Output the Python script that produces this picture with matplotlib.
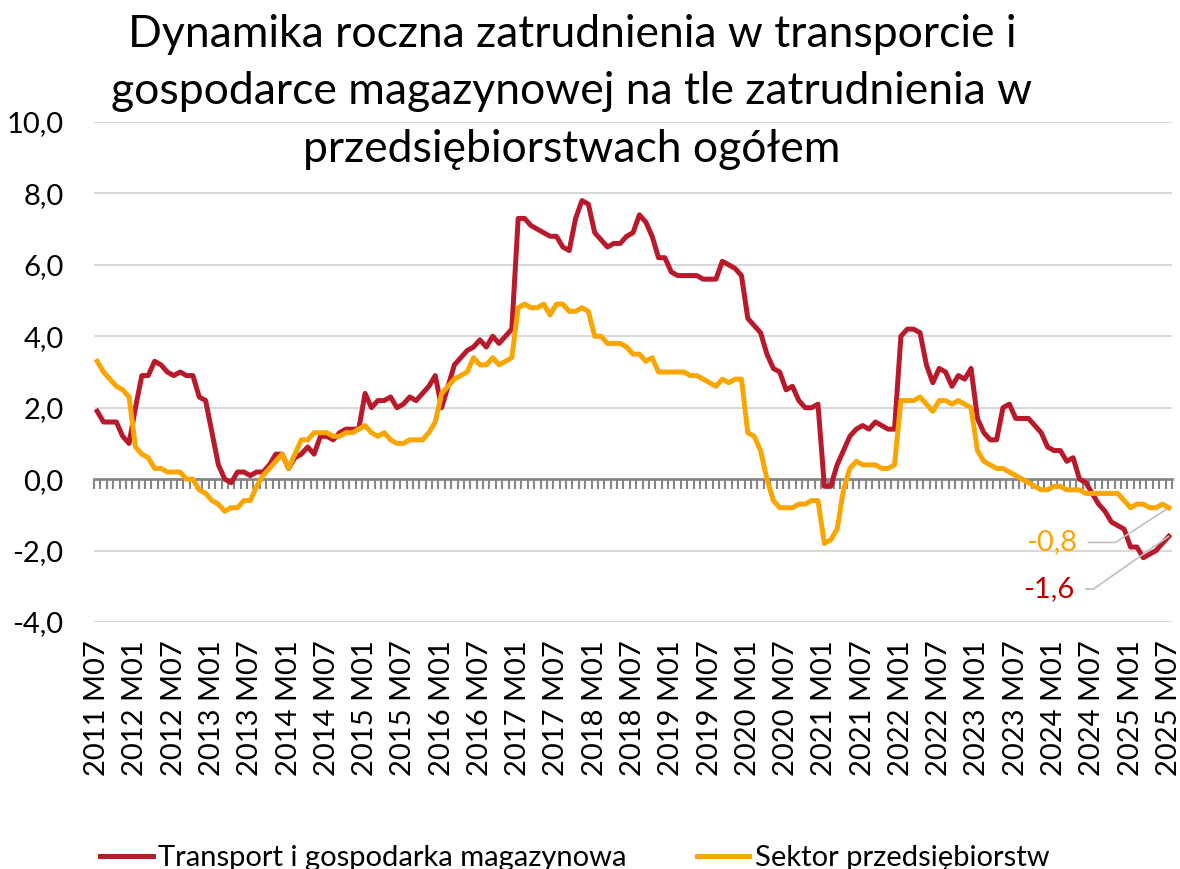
import numpy as np
import matplotlib.pyplot as plt

# Monthly data, 2011 M07 .. 2025 M07 (169 months)
transport = [
    1.9, 1.6, 1.6, 1.6, 1.2, 1.0, 2.0, 2.9, 2.9, 3.3,
    3.2, 3.0, 2.9, 3.0, 2.9, 2.9, 2.3, 2.2, 1.3, 0.4,
    0.0, -0.1, 0.2, 0.2, 0.1, 0.2, 0.2, 0.4, 0.7, 0.7,
    0.3, 0.6, 0.7, 0.9, 0.7, 1.2, 1.2, 1.1, 1.3, 1.4,
    1.4, 1.4, 2.4, 2.0, 2.2, 2.2, 2.3, 2.0, 2.1, 2.3,
    2.2, 2.4, 2.6, 2.9, 2.0, 2.6, 3.2, 3.4, 3.6, 3.7,
    3.9, 3.7, 4.0, 3.8, 4.0, 4.2, 7.3, 7.3, 7.1, 7.0,
    6.9, 6.8, 6.8, 6.5, 6.4, 7.3, 7.8, 7.7, 6.9, 6.7,
    6.5, 6.6, 6.6, 6.8, 6.9, 7.4, 7.2, 6.8, 6.2, 6.2,
    5.8, 5.7, 5.7, 5.7, 5.7, 5.6, 5.6, 5.6, 6.1, 6.0,
    5.9, 5.7, 4.5, 4.3, 4.1, 3.5, 3.1, 3.0, 2.5, 2.6,
    2.2, 2.0, 2.0, 2.1, -0.2, -0.2, 0.4, 0.8, 1.2, 1.4,
    1.5, 1.4, 1.6, 1.5, 1.4, 1.4, 4.0, 4.2, 4.2, 4.1,
    3.2, 2.7, 3.1, 3.0, 2.6, 2.9, 2.8, 3.1, 1.7, 1.3,
    1.1, 1.1, 2.0, 2.1, 1.7, 1.7, 1.7, 1.5, 1.3, 0.9,
    0.8, 0.8, 0.5, 0.6, 0.0, -0.1, -0.4, -0.7, -0.9, -1.2,
    -1.3, -1.4, -1.9, -1.9, -2.2, -2.1, -2.0, -1.8, -1.6,
]

sektor = [
    3.3, 3.0, 2.8, 2.6, 2.5, 2.3, 0.9, 0.7, 0.6, 0.3,
    0.3, 0.2, 0.2, 0.2, 0.0, 0.0, -0.3, -0.4, -0.6, -0.7,
    -0.9, -0.8, -0.8, -0.6, -0.6, -0.2, 0.1, 0.3, 0.5, 0.7,
    0.3, 0.7, 1.1, 1.1, 1.3, 1.3, 1.3, 1.2, 1.2, 1.3,
    1.3, 1.4, 1.5, 1.3, 1.2, 1.3, 1.1, 1.0, 1.0, 1.1,
    1.1, 1.1, 1.3, 1.6, 2.4, 2.6, 2.8, 2.9, 3.0, 3.4,
    3.2, 3.2, 3.4, 3.2, 3.3, 3.4, 4.8, 4.9, 4.8, 4.8,
    4.9, 4.6, 4.9, 4.9, 4.7, 4.7, 4.8, 4.7, 4.0, 4.0,
    3.8, 3.8, 3.8, 3.7, 3.5, 3.5, 3.3, 3.4, 3.0, 3.0,
    3.0, 3.0, 3.0, 2.9, 2.9, 2.8, 2.7, 2.6, 2.8, 2.7,
    2.8, 2.8, 1.3, 1.2, 0.8, 0.0, -0.6, -0.8, -0.8, -0.8,
    -0.7, -0.7, -0.6, -0.6, -1.8, -1.7, -1.4, -0.3, 0.3, 0.5,
    0.4, 0.4, 0.4, 0.3, 0.3, 0.4, 2.2, 2.2, 2.2, 2.3,
    2.1, 1.9, 2.2, 2.2, 2.1, 2.2, 2.1, 2.0, 0.8, 0.5,
    0.4, 0.3, 0.3, 0.2, 0.1, 0.0, -0.1, -0.2, -0.3, -0.3,
    -0.2, -0.2, -0.3, -0.3, -0.3, -0.4, -0.4, -0.4, -0.4, -0.4,
    -0.4, -0.6, -0.8, -0.7, -0.7, -0.8, -0.8, -0.7, -0.8,
]

tick_labels = [
    '2011 M07', '2012 M01', '2012 M07', '2013 M01', '2013 M07', '2014 M01',
    '2014 M07', '2015 M01', '2015 M07', '2016 M01', '2016 M07', '2017 M01',
    '2017 M07', '2018 M01', '2018 M07', '2019 M01', '2019 M07', '2020 M01',
    '2020 M07', '2021 M01', '2021 M07', '2022 M01', '2022 M07', '2023 M01',
    '2023 M07', '2024 M01', '2024 M07', '2025 M01', '2025 M07',
]

RED = '#b8192b'
ORANGE = '#f9a602'
DARKRED = '#c00000'
GRID = '#d9d9d9'
AXIS = '#868686'

plt.rcParams['font.family'] = ['Lato', 'DejaVu Sans']

x = np.arange(len(transport))

fig = plt.figure(figsize=(11.8, 8.69), dpi=100)
ax = fig.add_axes([94 / 1180, 1 - 622 / 869, (1172 - 94) / 1180, 500 / 869])

ax.plot(x, transport, color=RED, lw=3.6, solid_joinstyle='round', label='Transport i gospodarka magazynowa', zorder=3)
ax.plot(x, sektor, color=ORANGE, lw=3.6, solid_joinstyle='round', label='Sektor przedsiębiorstw', zorder=4)

ax.set_xlim(-0.5, len(x) - 0.5)
ax.set_ylim(-4, 10)
ax.set_yticks(np.arange(-4, 10.1, 2))
ax.set_yticklabels([f'{v:.1f}'.replace('.', ',') for v in np.arange(-4, 10.1, 2)])
for v in np.arange(-4, 10.1, 2):
    if v != 0:
        ax.axhline(v, color=GRID, lw=1.5, zorder=0)

ax.set_xticks(x[::6])
ax.set_xticklabels(tick_labels, rotation=90)
ax.tick_params(axis='x', length=0, pad=13, labelsize=21)
ax.tick_params(axis='y', length=0, pad=22, labelsize=21)
for s in ax.spines.values():
    s.set_visible(False)

# zero axis with monthly tick marks
sec = ax.secondary_xaxis(4 / 14)
sec.set_xticks(np.arange(-0.5, len(x), 1))
sec.tick_params(length=7, width=1.5, color=AXIS, labelbottom=False)
sec.spines['bottom'].set_color(AXIS)
sec.spines['bottom'].set_linewidth(2)

# end labels
ax.annotate('-0,8', xy=(x[-1], sektor[-1]), xytext=(-66, -25), textcoords='offset points',
            ha='right', va='center', fontsize=21, color=ORANGE,
            arrowprops=dict(arrowstyle='-', color='#bfbfbf', lw=1.2, shrinkA=6, shrinkB=0,
                            relpos=(1, 0.5), connectionstyle='angle,angleA=0,angleB=33,rad=0'))
ax.annotate('-1,6', xy=(x[-1], transport[-1]), xytext=(-68, -38), textcoords='offset points',
            ha='right', va='center', fontsize=21, color=DARKRED,
            arrowprops=dict(arrowstyle='-', color='#bfbfbf', lw=1.2, shrinkA=6, shrinkB=0,
                            relpos=(1, 0.5), connectionstyle='angle,angleA=0,angleB=35,rad=0'))

fig.text(572 / 1180, 1 - 14 / 869,
         'Dynamika roczna zatrudnienia w transporcie i\ngospodarce magazynowej na tle zatrudnienia w\nprzedsiębiorstwach ogółem',
         ha='center', va='top', fontsize=32, linespacing=1.5)

fig.legend(loc='center', bbox_to_anchor=(575 / 1180, 1 - 858 / 869), ncol=2, frameon=False,
           fontsize=21, handlelength=1.8, handletextpad=0.2, columnspacing=2.4)

fig.savefig('out.png', dpi=100)
